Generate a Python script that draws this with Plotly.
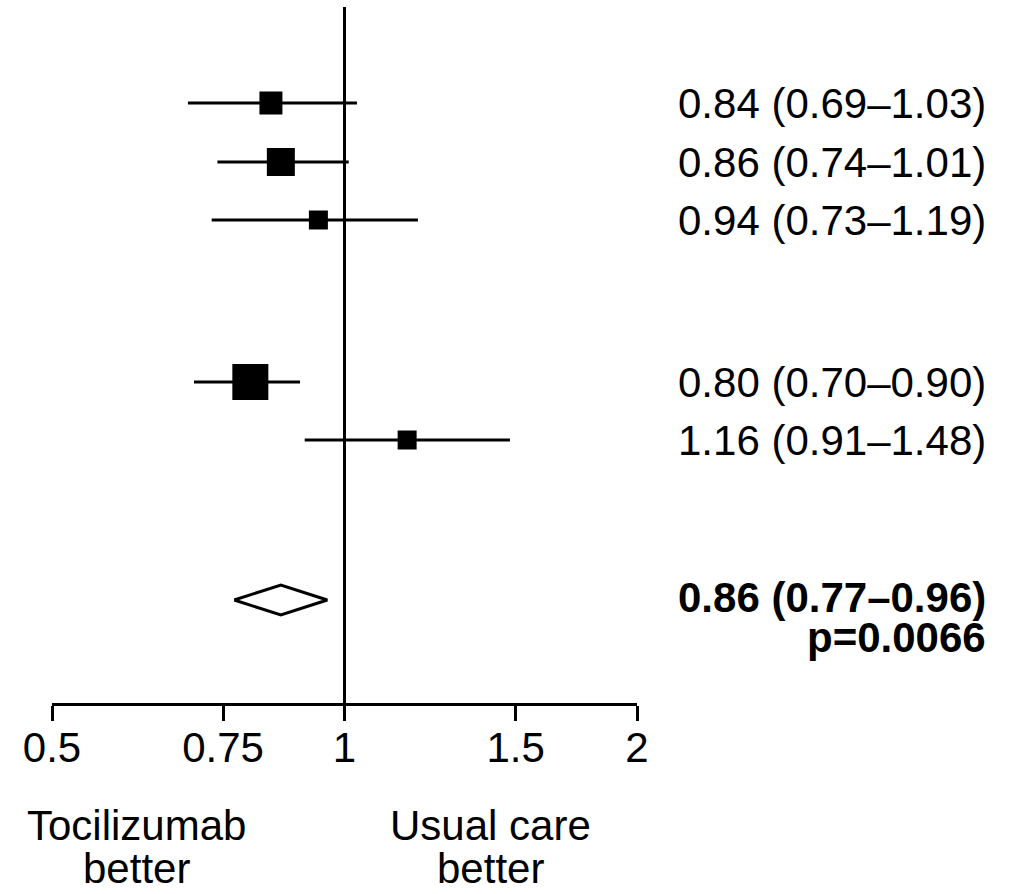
import plotly.graph_objects as go

# Hazard ratios (estimate, lower and upper 95% CI) for each subgroup row
estimates = [0.84, 0.86, 0.94, 0.80, 1.16]
ci_lower = [0.69, 0.74, 0.73, 0.70, 0.91]
ci_upper = [1.03, 1.01, 1.19, 0.90, 1.48]

# Pooled estimate
overall_est = 0.86
overall_lower = 0.77
overall_upper = 0.96
overall_p = "0.0066"

tick_values = [0.5, 0.75, 1, 1.5, 2]
tick_labels = ["0.5", "0.75", "1", "1.5", "2"]
left_label = ["Tocilizumab", "better"]
right_label = ["Usual care", "better"]

# ---- layout (pixel-based vertical coordinates, 0 at top) ----
W, H = 1018, 894
X_LEFT, X_RIGHT = 52, 637          # plot area edges (0.5 .. 2)
AXIS_Y = 703                        # y of the x-axis line
row_y = [103, 162, 220, 382, 440]
overall_y = 600
box_px = [23, 28, 19, 36, 19]       # square side lengths (study weights)
diamond_half_h = 15
LW = 3
FONT = "Liberation Sans, Arial, Helvetica, sans-serif"
FS = 42
TEXT_RIGHT = 988


def px_to_paper_x(px):
    return (px - X_LEFT) / (X_RIGHT - X_LEFT)


def px_to_paper_y(py):
    return 1 - py / AXIS_Y


fig = go.Figure()

# Confidence interval whiskers
wx, wy = [], []
for lo, hi, y in zip(ci_lower, ci_upper, row_y):
    wx += [lo, hi, None]
    wy += [y, y, None]
fig.add_trace(go.Scatter(x=wx, y=wy, mode="lines",
                         line=dict(color="black", width=LW),
                         hoverinfo="skip", showlegend=False))

# Point estimates as squares
fig.add_trace(go.Scatter(x=estimates, y=row_y, mode="markers",
                         marker=dict(symbol="square", size=box_px, color="black",
                                     opacity=1, line=dict(width=0)),
                         showlegend=False))

# Pooled estimate diamond
fig.add_trace(go.Scatter(
    x=[overall_lower, overall_est, overall_upper, overall_est, overall_lower],
    y=[overall_y, overall_y - diamond_half_h, overall_y,
       overall_y + diamond_half_h, overall_y],
    mode="lines", fill="toself", fillcolor="white",
    line=dict(color="black", width=LW), showlegend=False))

# Line of no effect
fig.add_shape(type="line", xref="x", yref="y", x0=1, x1=1, y0=7, y1=AXIS_Y,
              line=dict(color="black", width=LW), layer="below")

# Estimate text on the right
for est, lo, hi, y in zip(estimates, ci_lower, ci_upper, row_y):
    fig.add_annotation(x=px_to_paper_x(TEXT_RIGHT), xref="paper", y=y, yref="y",
                       text=f"{est:.2f} ({lo:.2f}\u2013{hi:.2f})",
                       xanchor="right", yanchor="middle", showarrow=False,
                       font=dict(family=FONT, size=FS, color="black"))

fig.add_annotation(x=px_to_paper_x(TEXT_RIGHT), xref="paper", y=overall_y - 3, yref="y",
                   text=f"<b>{overall_est:.2f} ({overall_lower:.2f}\u2013{overall_upper:.2f})</b>",
                   xanchor="right", yanchor="middle", showarrow=False,
                   font=dict(family=FONT, size=FS, color="black"))
fig.add_annotation(x=px_to_paper_x(TEXT_RIGHT), xref="paper", y=overall_y + 37, yref="y",
                   text=f"<b>p={overall_p}</b>",
                   xanchor="right", yanchor="middle", showarrow=False,
                   font=dict(family=FONT, size=FS, color="black"))

# Direction labels under the axis
for cx, lines in ((136, left_label), (490, right_label)):
    fig.add_annotation(x=px_to_paper_x(cx), xref="paper",
                       y=px_to_paper_y(826), yref="paper",
                       text=lines[0], xanchor="center", yanchor="middle", showarrow=False,
                       font=dict(family=FONT, size=FS, color="black"))
    fig.add_annotation(x=px_to_paper_x(cx), xref="paper",
                       y=px_to_paper_y(H), yref="paper",
                       text=lines[1], xanchor="center", yanchor="bottom", showarrow=False,
                       font=dict(family=FONT, size=FS, color="black"))

fig.update_layout(
    width=W, height=H,
    margin=dict(l=X_LEFT, r=W - X_RIGHT, t=0, b=H - AXIS_Y, pad=0),
    plot_bgcolor="white", paper_bgcolor="white",
    showlegend=False,
    xaxis=dict(type="log", range=[-0.30103, 0.30103],
               tickvals=tick_values, ticktext=tick_labels,
               showgrid=False, zeroline=False,
               showline=True, linecolor="black", linewidth=LW,
               ticks="outside", ticklen=15, tickwidth=LW, tickcolor="black",
               ticklabelstandoff=-9,
               tickfont=dict(family=FONT, size=FS, color="black"),
               fixedrange=True),
    yaxis=dict(range=[AXIS_Y, 0], visible=False, fixedrange=True),
)

fig.write_html("out.html")
